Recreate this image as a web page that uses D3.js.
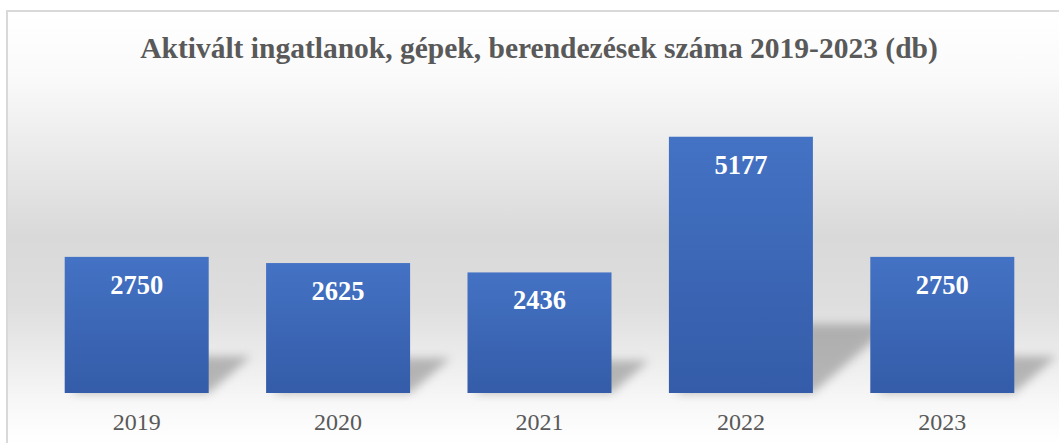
<!DOCTYPE html>
<meta charset="utf-8">
<script src="https://d3js.org/d3.v7.min.js"></script>
<style>
  body { margin: 0; background: #fff; }
  text { font-family: "Liberation Serif", "Times New Roman", serif; }
</style>
<div id="my_dataviz"></div>
<script>

// data
var years = ["2019", "2020", "2021", "2022", "2023"];
var counts = [2750, 2625, 2436, 5177, 2750];
var title = "Aktivált ingatlanok, gépek, berendezések száma 2019-2023 (db)";

var W = 1059, H = 443;
var margin = {top: 96, right: 16, bottom: 50, left: 36};

var svg = d3.select("#my_dataviz")
  .append("svg")
    .attr("width", W)
    .attr("height", H);

var defs = svg.append("defs");

// chart area background: white -> grey -> white
var bg = defs.append("linearGradient")
    .attr("id", "bgGrad")
    .attr("x1", 0).attr("y1", 0).attr("x2", 0).attr("y2", 1);
bg.append("stop").attr("offset", "0%").attr("stop-color", "#ffffff");
bg.append("stop").attr("offset", "15%").attr("stop-color", "#fafafa");
bg.append("stop").attr("offset", "52%").attr("stop-color", "#d9d9d9");
bg.append("stop").attr("offset", "68%").attr("stop-color", "#dedede");
bg.append("stop").attr("offset", "90%").attr("stop-color", "#f7f7f7");
bg.append("stop").attr("offset", "100%").attr("stop-color", "#ffffff");

// bar fill
var barGrad = defs.append("linearGradient")
    .attr("id", "barGrad")
    .attr("x1", 0).attr("y1", 0).attr("x2", 0).attr("y2", 1);
barGrad.append("stop").attr("offset", "0%").attr("stop-color", "#4472c4");
barGrad.append("stop").attr("offset", "100%").attr("stop-color", "#345ca8");

defs.append("filter")
    .attr("id", "blur")
    .attr("x", "-50%").attr("y", "-50%").attr("width", "200%").attr("height", "200%")
  .append("feGaussianBlur")
    .attr("stdDeviation", 5);

svg.append("rect")
    .attr("x", 7).attr("y", 11)
    .attr("width", W - 6).attr("height", H - 10)
    .attr("fill", "url(#bgGrad)")
    .attr("stroke", "#d9d9d9")
    .attr("stroke-width", 2);

// title
svg.append("text")
    .attr("x", 539)
    .attr("y", 58)
    .attr("text-anchor", "middle")
    .attr("font-size", "29.5px")
    .attr("font-weight", "bold")
    .attr("fill", "#595959")
    .text(title);

var x = d3.scaleBand()
    .domain(years)
    .range([margin.left, W - margin.right])
    .paddingInner(0.285)
    .paddingOuter(0.1425);

var y = d3.scaleLinear()
    .domain([0, 6000])
    .range([H - margin.bottom, margin.top]);

var g = svg.append("g");

// perspective shadow behind each bar
g.selectAll(".shadow")
  .data(counts)
  .enter()
  .append("path")
    .attr("class", "shadow")
    .attr("d", function(d, i) {
      var x0 = x(years[i]) + 6, x1 = x(years[i]) + x.bandwidth();
      var b = y(0), h = (y(0) - y(d)) * 0.27, s = h * 1.15;
      return "M" + x0 + "," + b + "L" + x1 + "," + b +
             "L" + (x1 + s) + "," + (b - h) + "L" + (x0 + s) + "," + (b - h) + "Z";
    })
    .attr("fill", "#8c8c8c")
    .attr("opacity", 0.6)
    .attr("filter", "url(#blur)");

g.selectAll(".bar")
  .data(counts)
  .enter()
  .append("rect")
    .attr("class", "bar")
    .attr("x", (d, i) => x(years[i]))
    .attr("y", d => y(d))
    .attr("width", x.bandwidth())
    .attr("height", d => y(0) - y(d))
    .attr("fill", "url(#barGrad)");

// value labels inside bars
g.selectAll(".val")
  .data(counts)
  .enter()
  .append("text")
    .attr("class", "val")
    .attr("x", (d, i) => x(years[i]) + x.bandwidth() / 2)
    .attr("y", d => y(d) + 37)
    .attr("text-anchor", "middle")
    .attr("font-size", "26.5px")
    .attr("font-weight", "bold")
    .attr("fill", "#ffffff")
    .text(d => d);

// category axis
var xAxis = svg.append("g")
    .attr("transform", "translate(0," + y(0) + ")")
    .call(d3.axisBottom(x).tickSize(0).tickPadding(0));
xAxis.select(".domain").remove();
xAxis.selectAll("text")
    .attr("dy", 0)
    .attr("y", 37)
    .attr("font-size", "24px")
    .attr("font-family", "Liberation Serif, serif")
    .attr("fill", "#595959");

</script>
